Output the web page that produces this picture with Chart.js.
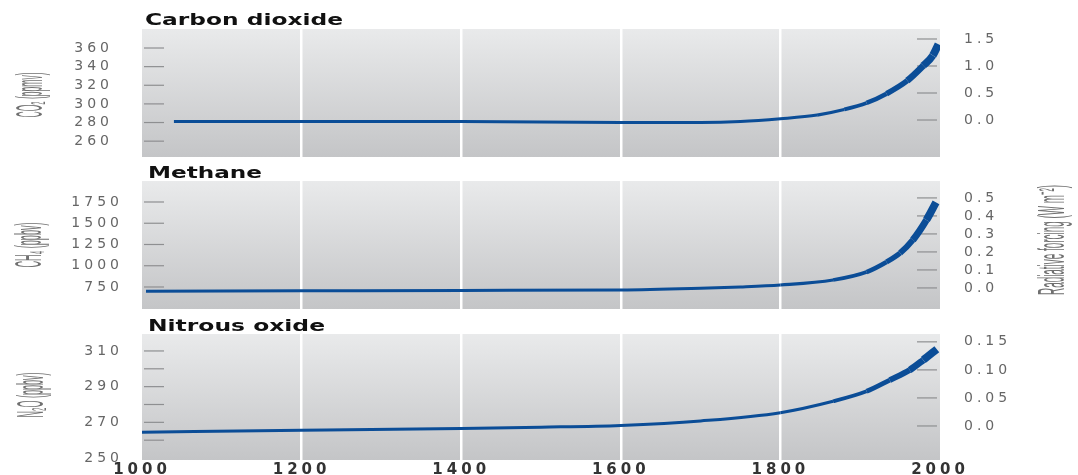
<!DOCTYPE html>
<html>
<head>
<meta charset="utf-8">
<title>Greenhouse gases, year 1000 to 2000</title>
<script src="https://cdn.jsdelivr.net/npm/chart.js@4.4.1/dist/chart.umd.min.js"></script>
<style>
  body { margin: 0; background: #fff; }
  canvas { position: absolute; left: 0; }
</style>
</head>
<body>
<canvas id="co2-chart" width="1078" height="160" style="top:0"></canvas>
<canvas id="ch4-chart" width="1078" height="155" style="top:160px"></canvas>
<canvas id="n2o-chart" width="1078" height="160" style="top:315px"></canvas>
<script>

	// values
	var co2Years  = [1040, 1200, 1400, 1600, 1700, 1750, 1800, 1846, 1880, 1908, 1933, 1959, 1979, 1991, 1998];
	var co2Values = [281, 281, 281, 280, 280, 281, 284, 288, 294, 301, 311, 325, 341, 352, 364];

	var ch4Years  = [1005, 1200, 1400, 1600, 1700, 1750, 1800, 1866, 1908, 1933, 1950, 1966, 1983, 1995];
	var ch4Values = [700, 705, 710, 715, 735, 750, 773, 832, 926, 1044, 1150, 1303, 1538, 1745];

	var n2oYears  = [1000, 1200, 1400, 1500, 1600, 1700, 1800, 1866, 1908, 1937, 1962, 1979, 1996];
	var n2oValues = [264.5, 265.5, 266.6, 267.3, 268.3, 270.8, 275.4, 281.8, 287.4, 293.7, 299.3, 304.9, 311];

	// tick values and labels
	var yearTicks = [1000, 1200, 1400, 1600, 1800, 2000];

	var co2Ticks    = [260, 280, 300, 320, 340, 360];
	var co2Labels   = ['260', '280', '300', '320', '340', '360'];
	var co2RfTicks  = [0, 0.5, 1.0, 1.5];
	var co2RfLabels = ['0.0', '0.5', '1.0', '1.5'];

	var ch4Ticks    = [750, 1000, 1250, 1500, 1750];
	var ch4Labels   = ['750', '1000', '1250', '1500', '1750'];
	var ch4RfTicks  = [0, 0.1, 0.2, 0.3, 0.4, 0.5];
	var ch4RfLabels = ['0.0', '0.1', '0.2', '0.3', '0.4', '0.5'];

	var n2oTicks    = [250, 260, 270, 280, 290, 300, 310];
	var n2oLabels   = ['250', '', '270', '', '290', '', '310'];
	var n2oRfTicks  = [0, 0.05, 0.10, 0.15];
	var n2oRfLabels = ['0.0', '0.05', '0.10', '0.15'];

	var lineBlue = '#0b4d97';

	// line gets thicker towards the present (uncertainty band)
	function bandWidth(year) {
		var t = Math.max(0, Math.min(1, (year - 1850) / 150));
		return 3 + 5 * t * t;
	}

	function drawSqueezed(ctx, text, cx, cy, length, across) {
		ctx.save();
		ctx.font = '12px "Liberation Sans Narrow", "Liberation Sans", sans-serif';
		var w = ctx.measureText(text).width;
		ctx.translate(cx, cy);
		ctx.rotate(-Math.PI / 2);
		ctx.scale(length / w, across);
		ctx.fillStyle = '#707070';
		ctx.textAlign = 'center';
		ctx.textBaseline = 'middle';
		ctx.fillText(text, 0, 0);
		ctx.restore();
	}

	var panelDecor = {
		id: 'panelDecor',
		beforeDraw: function (chart, args, opts) {
			var ctx = chart.ctx, a = chart.chartArea;
			var g = ctx.createLinearGradient(0, a.top, 0, a.bottom);
			g.addColorStop(0, '#e9eaeb');
			g.addColorStop(1, '#c4c5c7');
			ctx.save();
			ctx.fillStyle = g;
			ctx.fillRect(a.left, a.top, a.right - a.left, a.bottom - a.top);
			ctx.restore();
			ctx.letterSpacing = '4px';
		},
		beforeDatasetsDraw: function (chart) {
			var ctx = chart.ctx, a = chart.chartArea;
			ctx.save();
			ctx.strokeStyle = '#8e8f91';
			ctx.lineWidth = 1.2;
			['y', 'y1'].forEach(function (id) {
				var s = chart.scales[id];
				s.ticks.forEach(function (t) {
					var py = s.getPixelForValue(t.value);
					if (py > a.bottom - 4 || py < a.top + 2) return;
					ctx.beginPath();
					if (id === 'y') {
						ctx.moveTo(a.left + 2, py);
						ctx.lineTo(a.left + 22, py);
					} else {
						ctx.moveTo(a.right - 23, py);
						ctx.lineTo(a.right - 3, py);
					}
					ctx.stroke();
				});
			});
			ctx.restore();
		},
		afterDraw: function (chart, args, opts) {
			var ctx = chart.ctx;
			ctx.letterSpacing = '0px';
			// panel title
			ctx.save();
			ctx.font = 'bold 15px "DejaVu Sans", sans-serif';
			var w = ctx.measureText(opts.title).width;
			ctx.translate(opts.titleX, opts.titleY);
			ctx.scale(opts.titleW / w, 1);
			ctx.fillStyle = '#111';
			ctx.textAlign = 'left';
			ctx.textBaseline = 'middle';
			ctx.fillText(opts.title, 0, 0);
			ctx.restore();
			// axis titles
			drawSqueezed(ctx, opts.yTitle, opts.yTitleX, opts.yTitleY, 45, 3);
			if (opts.rTitle) {
				drawSqueezed(ctx, opts.rTitle, 1054, opts.rTitleY, 110, 3);
			}
		}
	};

	function tickList(values) {
		return function (scale) {
			scale.ticks = values.map(function (v) { return { value: v }; });
		};
	}

	function labelFrom(values, labels) {
		return function (value) {
			var i = values.indexOf(value);
			return i < 0 ? '' : labels[i];
		};
	}

	// fixed side widths; drop the label padding the scale asks for above/below
	function fixWidth(w) {
		return function (s) {
			s.width = w;
			s.paddingTop = 0;
			s.paddingBottom = 0;
		};
	}

	function panelConfig(p) {
		var points = p.years.map(function (y, i) { return { x: y, y: p.values[i] }; });
		return {
			type: 'line',
			data: {
				datasets: [{
					data: points,
					yAxisID: 'y',
					borderColor: lineBlue,
					borderWidth: 3,
					borderCapStyle: 'butt',
					borderJoinStyle: 'round',
					pointRadius: 0,
					cubicInterpolationMode: 'monotone',
					segment: {
						borderWidth: function (ctx) { return bandWidth(ctx.p1.parsed.x); }
					}
				}]
			},
			options: {
				responsive: false,
				animation: false,
				events: [],
				layout: { autoPadding: false, padding: { top: p.padTop, bottom: p.padBottom, left: 0, right: 0 } },
				plugins: {
					legend: { display: false },
					tooltip: { enabled: false },
					panelDecor: p.decor
				},
				scales: {
					x: {
						type: 'linear',
						min: 1000,
						max: 2000,
						afterBuildTicks: tickList(yearTicks),
						afterFit: function (s) { s.height = p.xHeight; },
						border: { display: false },
						grid: {
							color: function (c) {
								var v = c.tick ? c.tick.value : 1000;
								return (v > 1000 && v < 2000) ? '#ffffff' : 'rgba(0,0,0,0)';
							},
							lineWidth: 2.5,
							drawTicks: false
						},
						ticks: {
							display: p.showYears,
							autoSkip: false,
							maxRotation: 0,
							padding: 1,
							color: '#333',
							font: { family: '"DejaVu Sans", sans-serif', size: 15, weight: 'bold' },
							callback: function (v) { return String(v); }
						}
					},
					y: {
						position: 'left',
						min: p.yMin,
						max: p.yMax,
						afterBuildTicks: tickList(p.yTicks),
						afterFit: fixWidth(142),
						border: { display: false },
						grid: { display: false },
						ticks: {
							autoSkip: false,
							padding: p.yPad,
							color: '#666',
							font: { family: '"DejaVu Sans", sans-serif', size: 14 },
							callback: labelFrom(p.yTicks, p.yLabels)
						}
					},
					y1: {
						position: 'right',
						min: p.rMin,
						max: p.rMax,
						afterBuildTicks: tickList(p.rTicks),
						afterFit: fixWidth(138),
						border: { display: false },
						grid: { display: false },
						ticks: {
							autoSkip: false,
							padding: 16,
							color: '#666',
							font: { family: '"DejaVu Sans", sans-serif', size: 14 },
							callback: labelFrom(p.rTicks, p.rLabels)
						}
					}
				}
			},
			plugins: [panelDecor]
		};
	}

	new Chart(document.getElementById('co2-chart'), panelConfig({
		years: co2Years, values: co2Values,
		yMin: 243, yMax: 380.4, yTicks: co2Ticks, yLabels: co2Labels, yPad: 21,
		rMin: -0.685, rMax: 1.685, rTicks: co2RfTicks, rLabels: co2RfLabels,
		padTop: 29, padBottom: 3, xHeight: 0, showYears: false,
		decor: { title: 'Carbon dioxide', titleX: 145, titleY: 21, titleW: 198,
			yTitle: 'CO\u2082 (ppmv)', yTitleX: 32, yTitleY: 95 }
	}));

	new Chart(document.getElementById('ch4-chart'), panelConfig({
		years: ch4Years, values: ch4Values,
		yMin: 491, yMax: 1997, yTicks: ch4Ticks, yLabels: ch4Labels, yPad: 11,
		rMin: -0.117, rMax: 0.594, rTicks: ch4RfTicks, rLabels: ch4RfLabels,
		padTop: 21, padBottom: 6, xHeight: 0, showYears: false,
		decor: { title: 'Methane', titleX: 148, titleY: 14, titleW: 114,
			yTitle: 'CH\u2084 (ppbv)', yTitleX: 31, yTitleY: 85,
			rTitle: 'Radiative forcing (W m\u207B\u00B2)', rTitleY: 80 }
	}));

	new Chart(document.getElementById('n2o-chart'), panelConfig({
		years: n2oYears, values: n2oValues,
		yMin: 248.9, yMax: 319.5, yTicks: n2oTicks, yLabels: n2oLabels, yPad: 11,
		rMin: -0.0607, rMax: 0.164, rTicks: n2oRfTicks, rLabels: n2oRfLabels,
		padTop: 19, padBottom: 0, xHeight: 15, showYears: true,
		decor: { title: 'Nitrous oxide', titleX: 148, titleY: 12, titleW: 177,
			yTitle: 'N\u2082O (ppbv)', yTitleX: 33, yTitleY: 80 }
	}));

</script>
</body>
</html>
